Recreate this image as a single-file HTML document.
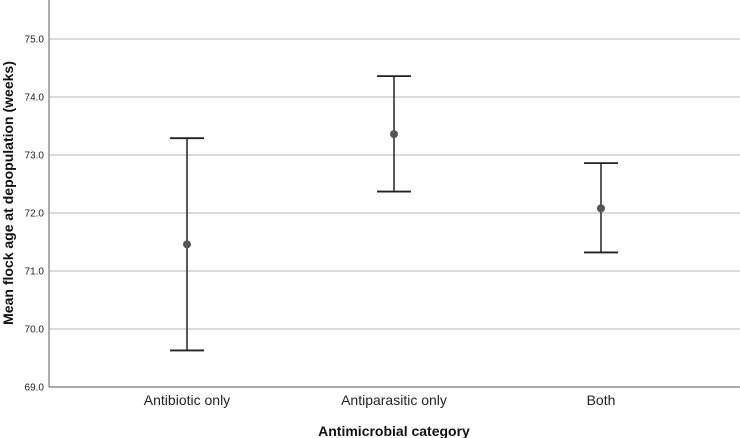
<!DOCTYPE html>
<html><head><meta charset="utf-8"><style>
html,body{margin:0;padding:0;background:#fff;}
svg{display:block;font-family:"Liberation Sans",sans-serif;}
</style></head><body>
<svg id="chart" width="740" height="438">
<g id="grid"></g>
<g id="yticks"></g>
<line x1="49" y1="0" x2="49" y2="387" stroke="#777" stroke-width="1.2"/>
<line x1="49" y1="387" x2="740" y2="387" stroke="#777" stroke-width="1.2"/>
<g id="xticks"></g>
<g id="marks"></g>
<text x="394" y="436" text-anchor="middle" font-size="14" font-weight="bold" fill="#111">Antimicrobial category</text>
<text transform="translate(13,193) rotate(-90)" text-anchor="middle" font-size="14" font-weight="bold" fill="#111">Mean flock age at depopulation (weeks)</text>
</svg>
<script>
const categories = ["Antibiotic only", "Antiparasitic only", "Both"];
const means = [71.46, 73.36, 72.08];
const upper = [73.29, 74.36, 72.86];
const lower = [69.63, 72.37, 71.32];
const yTicks = [69, 70, 71, 72, 73, 74, 75];
const yLabels = ["69.0", "70.0", "71.0", "72.0", "73.0", "74.0", "75.0"];

const NS = "http://www.w3.org/2000/svg";
function y(v){ return 387 - (v - 69) * 58; }
function x(i){ return 187 + 207 * i; }
function mk(tag, attrs, parent){
  const e = document.createElementNS(NS, tag);
  for (const k in attrs) e.setAttribute(k, attrs[k]);
  document.getElementById(parent).appendChild(e);
  return e;
}
yTicks.forEach((t, i) => {
  if (t !== 69) {
    const g = mk("line", {x1: 49, x2: 740, y1: y(t), y2: y(t), stroke: "#cfcfcf", "stroke-width": 1.5}, "grid");
    
    
  }
  const l = mk("text", {x: 44, y: y(t) + 3.5, "text-anchor": "end", "font-size": 10, fill: "#222"}, "yticks");
  l.textContent = yLabels[i];
  
  
});
categories.forEach((c, i) => {
  const l = mk("text", {x: x(i), y: 405, "text-anchor": "middle", "font-size": 14, fill: "#222"}, "xticks");
  l.textContent = c;
  
  
  const v = mk("line", {x1: x(i), x2: x(i), y1: y(upper[i]), y2: y(lower[i]), stroke: "#222", "stroke-width": 1.5}, "marks");
  
  
  const cu = mk("line", {x1: x(i) - 17, x2: x(i) + 17, y1: y(upper[i]), y2: y(upper[i]), stroke: "#222", "stroke-width": 1.8}, "marks");
  
  
  const cl = mk("line", {x1: x(i) - 17, x2: x(i) + 17, y1: y(lower[i]), y2: y(lower[i]), stroke: "#222", "stroke-width": 1.8}, "marks");
  
  
  const d = mk("circle", {cx: x(i), cy: y(means[i]), r: 4, fill: "#555"}, "marks");
  
  
});
</script>
</body></html>
